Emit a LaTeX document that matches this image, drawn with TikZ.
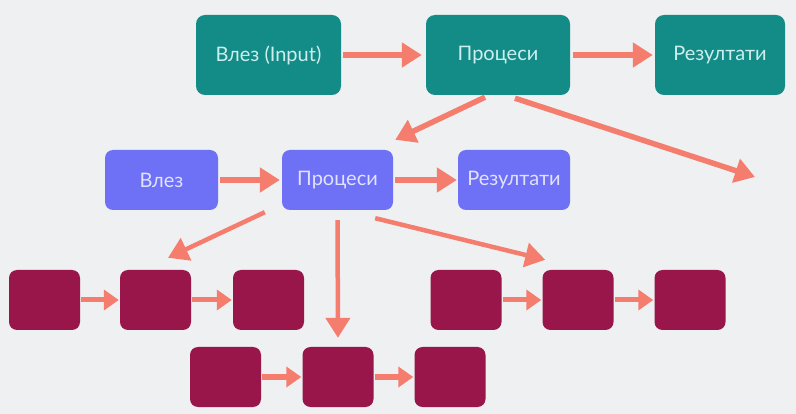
\documentclass[tikz,border=0pt]{standalone}
\usepackage{fontspec}
\setmainfont{Lato}
\usetikzlibrary{arrows.meta,calc}
\definecolor{bgc}{RGB}{238,240,242}
\definecolor{tealc}{RGB}{19,140,136}
\definecolor{bluec}{RGB}{110,112,246}
\definecolor{maroonc}{RGB}{152,22,74}
\definecolor{arrowc}{RGB}{245,125,110}
\definecolor{tealtxt}{RGB}{205,238,236}
\definecolor{bluetxt}{RGB}{225,226,255}
\tikzset{
  tealbox/.style={fill=tealc, rounded corners=9pt, minimum height=80pt, inner sep=0pt,
    text=tealtxt, font=\fontsize{20}{23}\selectfont},
  bluebox/.style={fill=bluec, rounded corners=8pt, minimum height=60pt, inner sep=0pt,
    text=bluetxt, font=\fontsize{20}{23}\selectfont},
  cell/.style={fill=maroonc, rounded corners=8pt, minimum width=71pt, minimum height=60pt, inner sep=0pt},
  bigarrow/.style={draw=arrowc, line width=5.5pt,
    -{Triangle[length=20pt,width=24pt]}},
  smallarrow/.style={draw=arrowc, line width=5pt,
    -{Triangle[length=15pt,width=20pt]}, shorten <=1pt, shorten >=1pt}
}
\begin{document}
\begin{tikzpicture}[x=1pt,y=-1pt]
  \fill[bgc] (0,0) rectangle (796,414);
  \useasboundingbox (0,0) rectangle (796,414);

  % top level
  \node[tealbox, minimum width=145pt] (in1) at (268.5,55) {Влез (Input)};
  \node[tealbox, minimum width=144pt] (pr1) at (498,55) {Процеси};
  \node[tealbox, minimum width=130pt] (out1) at (720,55) {Резултати};
  \draw[bigarrow, shorten <=2pt, shorten >=4pt] (in1.east) -- (pr1.west);
  \draw[bigarrow, shorten <=3pt, shorten >=2pt] (pr1.east) -- (out1.west);

  % second level
  \node[bluebox, minimum width=113pt] (in2) at (161.5,180) {Влез};
  \node[bluebox, minimum width=111pt] (pr2) at (337.5,180) {Процеси};
  \node[bluebox, minimum width=112pt] (out2) at (514,180) {Резултати};
  \draw[bigarrow, shorten <=2pt, shorten >=2pt] (in2.east) -- (pr2.west);
  \draw[bigarrow, shorten <=2pt, shorten >=1pt] (pr2.east) -- (out2.west);

  \coordinate (free) at (755,177);
  \draw[bigarrow] ([xshift=-13pt,yshift=-2pt]pr1.south) -- ([xshift=2pt,yshift=10pt]pr2.north east);
  \draw[bigarrow] ([xshift=17pt,yshift=-3pt]pr1.south) -- (free);

  % third level
  \node[cell] (a1) at (44.5,300) {};
  \node[cell] (a2) at (155.5,300) {};
  \node[cell] (a3) at (268.5,300) {};
  \node[cell] (c1) at (466,300) {};
  \node[cell] (c2) at (578,300) {};
  \node[cell] (c3) at (690,300) {};
  \node[cell] (b1) at (225.5,377) {};
  \node[cell] (b2) at (338,377) {};
  \node[cell] (b3) at (450,377) {};
  \foreach \u/\v in {a1/a2,a2/a3,c1/c2,c2/c3,b1/b2,b2/b3}
    \draw[smallarrow] (\u.east) -- (\v.west);

  \draw[bigarrow, line width=4.5pt] ([xshift=-17pt,yshift=-2pt]pr2.south west) -- ([xshift=12.5pt,yshift=12pt]a2.north);
  \draw[bigarrow, line width=4.5pt, shorten <=10pt, shorten >=9pt] (pr2.south) -- (b2.north);
  \draw[bigarrow, line width=4.5pt] ([xshift=-18pt,yshift=-8pt]pr2.south east) -- ([xshift=3pt,yshift=10pt]c2.north west);
\end{tikzpicture}
\end{document}
